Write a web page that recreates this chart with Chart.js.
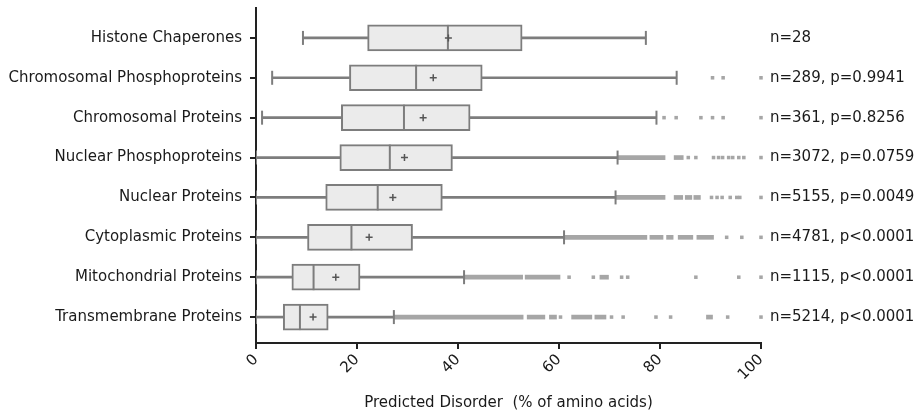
<!DOCTYPE html>
<html>
<head>
<meta charset="utf-8">
<script src="https://cdn.jsdelivr.net/npm/chart.js@4.4.1/dist/chart.umd.min.js"></script>
<style>
  html, body { margin: 0; padding: 0; background: #fff; }
</style>
</head>
<body>
<canvas id="myChart" width="922" height="416"></canvas>
<script>
var categories = ['Histone Chaperones', 'Chromosomal Phosphoproteins', 'Chromosomal Proteins',
  'Nuclear Phosphoproteins', 'Nuclear Proteins', 'Cytoplasmic Proteins',
  'Mitochondrial Proteins', 'Transmembrane Proteins'];
var stats = ['n=28', 'n=289, p=0.9941', 'n=361, p=0.8256', 'n=3072, p=0.0759',
  'n=5155, p=0.0049', 'n=4781, p<0.0001', 'n=1115, p<0.0001', 'n=5214, p<0.0001'];

var whiskerLow  = [9.3, 3.2, 1.2, 0, 0, 0, 0, 0];
var q1          = [22.1, 18.5, 16.9, 16.6, 13.8, 10.2, 7.1, 5.4];
var median      = [38, 31.7, 29.3, 26.5, 24.1, 18.9, 11.4, 8.7];
var mean        = [38.1, 35.1, 33.1, 29.4, 27.1, 22.4, 15.8, 11.3];
var q3          = [52.7, 44.8, 42.4, 38.9, 36.9, 31, 20.6, 14.3];
var whiskerHigh = [77.2, 83.3, 79.3, 71.6, 71.2, 61, 41.2, 27.3];

// outliers that run together into a band / dash
var outlierRuns = [
  [],
  [],
  [],
  [[71.6, 81], [82.8, 84.6]],
  [[71.2, 81], [82.8, 84.5], [85.0, 86.3], [86.7, 88]],
  [[61, 77.4], [78, 80.6], [81.3, 82.6], [83.6, 86.5], [87.3, 90.6]],
  [[41.2, 52.8], [53.3, 60.2], [68.1, 69.8]],
  [[27.3, 52.9], [53.7, 57.2], [58.1, 59.5], [62.5, 66.5], [67.1, 69.3], [89.2, 90.4]]
];
// single outlier dots
var outlierDots = [
  [],
  [90.4, 92.5, 100],
  [80.8, 83.2, 88.1, 90.4, 92.5, 100],
  [85.6, 87.1, 90.6, 91.6, 92.4, 93.6, 94.4, 95.6, 96.6, 100],
  [90.2, 91.3, 92.3, 93.9, 95.2, 95.8, 100],
  [93.2, 96.2, 100],
  [62, 66.8, 72.4, 73.6, 87.1, 95.6, 100],
  [60.3, 70.4, 72.7, 79.2, 82.1, 93.4, 100]
];

var boxData = [], whiskerData = [], capData = [], medianData = [], meanData = [];
var runData = [], dotData = [];
for (var i = 0; i < categories.length; i++) {
  boxData.push({x: [q1[i], q3[i]], y: i});
  whiskerData.push({x: [whiskerLow[i], q1[i]], y: i});
  whiskerData.push({x: [q3[i], whiskerHigh[i]], y: i});
  capData.push({x: whiskerLow[i], y: i});
  capData.push({x: whiskerHigh[i], y: i});
  medianData.push({x: median[i], y: i});
  meanData.push({x: mean[i], y: i});
  outlierRuns[i].forEach(function(r) { runData.push({x: r, y: i}); });
  outlierDots[i].forEach(function(v) { dotData.push({x: v, y: i}); });
}

var lineGrey = '#7d7d7d';
var outGrey = '#a6a6a6';
var ink = '#1a1a1a';

Chart.defaults.font.family = 'DejaVu Sans';
Chart.defaults.font.size = 15;
Chart.defaults.color = ink;

function categoryTicks(scale) {
  scale.ticks = categories.map(function(c, i) { return {value: i}; });
}

var ctx = document.getElementById('myChart').getContext('2d');
var chart = new Chart(ctx, {
  type: 'bar',
  data: {
    datasets: [
      {type: 'scatter', data: meanData, order: 1, pointStyle: 'cross', radius: 3.5,
        borderColor: '#555', borderWidth: 1.5},
      {type: 'scatter', data: medianData, order: 2, pointStyle: 'line', rotation: 90, radius: 13,
        borderColor: lineGrey, borderWidth: 2},
      {type: 'scatter', data: capData, order: 3, pointStyle: 'line', rotation: 90, radius: 7,
        borderColor: lineGrey, borderWidth: 2},
      {data: boxData, order: 4, stack: 'a', barThickness: 26, backgroundColor: '#ebebeb',
        borderColor: lineGrey, borderWidth: 2, borderSkipped: false},
      {data: whiskerData, order: 5, stack: 'a', barThickness: 2, backgroundColor: lineGrey, borderWidth: 0},
      {data: runData, order: 6, stack: 'a', barThickness: 4, backgroundColor: outGrey, borderWidth: 0},
      {type: 'scatter', data: dotData, order: 7, pointStyle: 'rect', radius: 2.5, clip: false,
        backgroundColor: outGrey, borderWidth: 0}
    ]
  },
  options: {
    indexAxis: 'y',
    responsive: false,
    animation: false,
    layout: {autoPadding: false, padding: {top: 8, left: 0, right: 0, bottom: 0}},
    plugins: {legend: {display: false}, tooltip: {enabled: false}},
    scales: {
      x: {
        type: 'linear', position: 'bottom', min: 0, max: 100, stacked: false,
        afterFit: function(s) { s.height = 73; },
        border: {display: true, color: '#222', width: 2},
        grid: {drawOnChartArea: false, drawTicks: true, tickLength: 6, color: '#222', lineWidth: 2},
        ticks: {stepSize: 20, minRotation: 45, maxRotation: 45, padding: 2, color: ink},
        title: {display: true, text: 'Predicted Disorder  (% of amino acids)', color: ink,
          padding: {top: 4, bottom: 4}}
      },
      y: {
        type: 'linear', position: 'left', reverse: true, min: -0.75, max: 7.65, offset: false,
        afterFit: function(s) { s.width = 256; s.paddingTop = 0; s.paddingBottom = 0; },
        afterBuildTicks: categoryTicks,
        border: {display: true, color: '#222', width: 2},
        grid: {offset: false, drawOnChartArea: false, drawTicks: true, tickLength: 6, color: '#222', lineWidth: 2},
        ticks: {autoSkip: false, padding: 8, color: ink,
          callback: function(v) { return categories[v]; }}
      },
      y2: {
        type: 'linear', axis: 'y', position: 'right', reverse: true, min: -0.75, max: 7.65, offset: false,
        afterFit: function(s) { s.width = 161; s.paddingTop = 0; s.paddingBottom = 0; },
        afterBuildTicks: categoryTicks,
        border: {display: false},
        grid: {display: false, drawTicks: false, offset: false},
        ticks: {autoSkip: false, padding: 9, color: ink,
          callback: function(v) { return stats[v]; }}
      }
    }
  }
});
</script>
</body>
</html>
